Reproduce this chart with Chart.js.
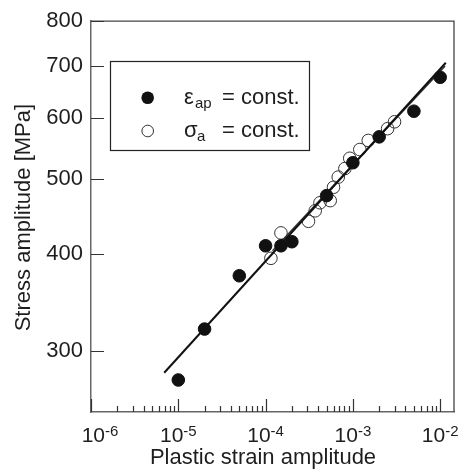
<!DOCTYPE html>
<html lang="en">
<head>
<meta charset="UTF-8">
<title>Stress amplitude vs plastic strain amplitude</title>
<script src="https://cdn.jsdelivr.net/npm/chart.js"></script>
<style>
  html, body { margin: 0; padding: 0; background: #fff; }
</style>
</head>
<body>
<canvas id="chart" width="462" height="472"></canvas>
<script>
// eps_ap = const. (filled circles)
const strainCtrlX = [1e-5, 2e-5, 5e-5, 1e-4, 1.5e-4, 2e-4, 5e-4, 1e-3, 2e-3, 5e-3, 1e-2];
const strainCtrlY = [275, 320, 375, 410, 410, 415, 476, 525, 567, 612, 677];
// sigma_a = const. (open circles)
const stressCtrlX = [1.15e-4, 1.5e-4, 3.1e-4, 3.7e-4, 4.2e-4, 5.5e-4, 6e-4, 6.8e-4, 8.1e-4, 9.2e-4, 1.2e-3, 1.5e-3, 2.5e-3, 3e-3];
const stressCtrlY = [395, 426, 441, 455, 466, 469, 488, 503, 516, 532, 546, 561, 581, 593];
// fitted lines
const fitAX = [6.9e-6, 1.16e-2];
const fitAY = [281, 707];
const fitBX = [1.2e-4, 1.14e-2];
const fitBY = [404, 700];
// axes
const xTicks = [1e-6, 1e-5, 1e-4, 1e-3, 1e-2];
const xTickExp = ['-6', '-5', '-4', '-3', '-2'];
const yTicks = [300, 400, 500, 600, 700, 800];

const FONT = '"Liberation Sans", Arial, Helvetica, sans-serif';
const INK = '#1e1e1e';

const pts = (xs, ys) => xs.map((x, i) => ({ x: x, y: ys[i] }));

const decorations = {
    id: 'decorations',
    afterDraw(chart) {
        const ctx = chart.ctx;
        const a = chart.chartArea;
        const xs = chart.scales.x;
        const ys = chart.scales.y;
        ctx.save();

        // top + right frame
        ctx.strokeStyle = '#444';
        ctx.lineWidth = 1.3;
        ctx.beginPath();
        ctx.moveTo(a.left, a.top);
        ctx.lineTo(a.right, a.top);
        ctx.lineTo(a.right, a.bottom);
        ctx.stroke();

        // inward ticks on x
        ctx.strokeStyle = '#333';
        ctx.lineWidth = 1.2;
        ctx.beginPath();
        xTicks.forEach(t => {
            for (let k = 1; k <= 9; k++) {
                const v = t * k;
                if (v > xs.max) break;
                const px = Math.round(xs.getPixelForValue(v)) + 0.5;
                const len = k === 1 ? 13 : 6;
                ctx.moveTo(px, a.bottom);
                ctx.lineTo(px, a.bottom - len);
            }
        });
        // inward ticks on y
        yTicks.forEach(t => {
            const py = Math.round(ys.getPixelForValue(t)) + 0.5;
            ctx.moveTo(a.left, py);
            ctx.lineTo(a.left + 13, py);
        });
        ctx.stroke();

        // x tick labels 10^n
        ctx.fillStyle = INK;
        ctx.textBaseline = 'alphabetic';
        xTicks.forEach((t, i) => {
            ctx.font = '21px ' + FONT;
            const w1 = ctx.measureText('10').width;
            ctx.font = '15px ' + FONT;
            const w2 = ctx.measureText(xTickExp[i]).width;
            let left = xs.getPixelForValue(t) - (w1 + w2) / 2;
            if (i === 0) left += 9;
            ctx.font = '21px ' + FONT;
            ctx.fillText('10', left, 442);
            ctx.font = '15px ' + FONT;
            ctx.fillText(xTickExp[i], left + w1, 436);
        });

        // axis titles
        ctx.font = '22px ' + FONT;
        ctx.textAlign = 'center';
        ctx.fillText('Plastic strain amplitude', 263, 464);
        ctx.save();
        ctx.translate(30, (a.top + a.bottom) / 2 + 1);
        ctx.rotate(-Math.PI / 2);
        ctx.fillText('Stress amplitude [MPa]', 0, 0);
        ctx.restore();

        // legend box
        ctx.textAlign = 'left';
        ctx.fillStyle = '#fff';
        ctx.fillRect(110, 62, 199, 89);
        ctx.strokeStyle = '#222';
        ctx.lineWidth = 1.2;
        ctx.strokeRect(110.5, 61.5, 199, 89);

        ctx.fillStyle = '#111';
        ctx.beginPath();
        ctx.arc(147.7, 97.7, 6.3, 0, Math.PI * 2);
        ctx.fill();
        ctx.strokeStyle = '#333';
        ctx.lineWidth = 1;
        ctx.beginPath();
        ctx.arc(147.7, 131, 5.8, 0, Math.PI * 2);
        ctx.stroke();

        ctx.fillStyle = INK;
        ctx.font = '22px ' + FONT;
        ctx.fillText('\u03b5', 184, 104);
        ctx.fillText('\u03c3', 184, 137);
        ctx.fillText('= const.', 222, 104);
        ctx.fillText('= const.', 222, 137);
        ctx.font = '15px ' + FONT;
        ctx.fillText('ap', 195, 108);
        ctx.fillText('a', 197, 141);

        ctx.restore();
    }
};

new Chart(document.getElementById('chart'), {
    type: 'scatter',
    data: {
        datasets: [
            {
                label: '\u03b5ap = const.',
                data: pts(strainCtrlX, strainCtrlY),
                backgroundColor: '#111',
                borderColor: '#111',
                pointRadius: 6.3,
                order: 0
            },
            {
                label: 'fit A',
                data: pts(fitAX, fitAY),
                showLine: true,
                borderColor: '#111',
                borderWidth: 2,
                pointRadius: 0,
                order: 1
            },
            {
                label: 'fit B',
                data: pts(fitBX, fitBY),
                showLine: true,
                borderColor: '#333',
                borderWidth: 1.4,
                pointRadius: 0,
                order: 1
            },
            {
                label: '\u03c3a = const.',
                data: pts(stressCtrlX, stressCtrlY),
                backgroundColor: 'rgba(255,255,255,0)',
                borderColor: '#333',
                borderWidth: 1,
                pointRadius: 6.3,
                order: 2
            }
        ]
    },
    options: {
        responsive: false,
        animation: false,
        devicePixelRatio: 1,
        layout: { padding: { top: 16, right: 8, left: 0, bottom: 0 } },
        plugins: {
            legend: { display: false },
            tooltip: { enabled: false }
        },
        scales: {
            x: {
                type: 'logarithmic',
                min: 1e-6,
                max: 0.0144,
                grid: { display: false, drawTicks: false },
                border: { display: true, color: '#666', width: 1.5 },
                ticks: { display: false },
                afterBuildTicks: s => { s.ticks = xTicks.map(v => ({ value: v })); },
                afterFit: s => { s.height = 60; }
            },
            y: {
                type: 'logarithmic',
                min: 250,
                max: 800,
                grid: { display: false, drawTicks: false },
                border: { display: true, color: '#666', width: 1.5 },
                ticks: {
                    color: INK,
                    padding: 8,
                    font: { family: FONT, size: 22 },
                    callback: v => String(v)
                },
                afterBuildTicks: s => { s.ticks = yTicks.map(v => ({ value: v })); },
                afterFit: s => { s.width = 91; }
            }
        }
    },
    plugins: [decorations]
});
</script>
</body>
</html>
